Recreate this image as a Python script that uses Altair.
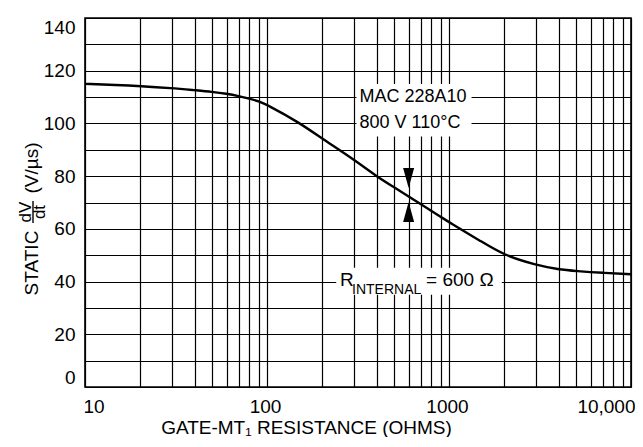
import altair as alt
import pandas as pd

# ---- data ----
resistance = [10, 15, 20, 30, 40, 50, 60, 70, 80, 90, 100, 150, 200, 300, 400, 500,
              600, 700, 800, 900, 1000, 1500, 2000, 3000, 4000, 5000, 7000, 10000]
dvdt = [115, 114.6, 114.2, 113.4, 112.6, 112.0, 111.3, 110.4, 109.4, 108.4, 107.1, 100.4,
        94.3, 86.3, 79.9, 75.8, 72.3, 69.4, 66.8, 64.6, 62.5, 55.3, 50.0, 46.3, 44.6,
        44.0, 43.3, 42.8]

x_grid = [m * d for d in (10, 100, 1000) for m in range(1, 10)] + [10000]
y_grid = list(range(0, 150, 10))

mac_text = ["MAC 228A10", "800 V 110°C"]
mac_x = [634, 610]
mac_y = [110, 100]

box_x = [310, 240]
box_x2 = [1330, 1950]
box_y = [95, 35]
box_y2 = [115, 45.2]

arrow_dir = ["down", "up"]
arrow_x = [600, 600]
arrow_y = [79.3, 66.4]

r_x = [252]
r_y = [38.3]

FONT = "Liberation Sans Narrow, Liberation Sans, Arial, sans-serif"

xs = alt.Scale(type="log", domain=[10, 10000])
ys = alt.Scale(domain=[0, 140])

x_axis = alt.Axis(
    values=x_grid,
    labelExpr="datum.value == 10000 ? '10,000' : datum.value == 1000 ? '1000' : datum.value == 100 ? '100' : datum.value == 10 ? '10' : ''",
    labelFlush=True,
    labelOffset={"condition": {"test": "datum.value == 10000", "value": 4}, "value": -2},
    labelPadding=10,
    title="GATE-MT₁ RESISTANCE (OHMS)",
    titleX=221, titleY=46, titleAlign="center", titleBaseline="alphabetic",
    titleFontSize=19, titleFont=FONT, titleFontWeight="normal",
)
y_axis = alt.Axis(
    values=y_grid,
    labelExpr="datum.value % 20 == 0 ? datum.label : ''",
    labelFlush=True,
    labelPadding=10,
    title="",
)

curve_df = pd.DataFrame({"r": resistance, "v": dvdt})
box_df = pd.DataFrame({"r": box_x, "r2": box_x2, "v": box_y, "v2": box_y2})
mac_df = pd.DataFrame({"r": mac_x, "v": mac_y, "t": mac_text})
arrow_df = pd.DataFrame({"r": arrow_x, "v": arrow_y, "d": arrow_dir})
r_df = pd.DataFrame({"r": r_x, "v": r_y})

X = alt.X("r:Q", scale=xs, axis=x_axis)
Y = alt.Y("v:Q", scale=ys, axis=y_axis)

curve = alt.Chart(curve_df).mark_line(color="black", strokeWidth=2.4, interpolate="basis").encode(x=X, y=Y)

boxes = alt.Chart(box_df).mark_rect(fill="white").encode(x=X, x2="r2:Q", y=Y, y2="v2:Q")

mac = alt.Chart(mac_df).mark_text(font=FONT, fontSize=18, align="center", baseline="middle", color="black").encode(
    x=X, y=Y, text="t:N")

down_path = "M-0.55,-1L0.55,-1L0,1Z"
up_path = "M-0.55,1L0.55,1L0,-1Z"
arrows = alt.Chart(arrow_df).mark_point(filled=True, color="black", opacity=1, size=400).encode(
    x=X, y=Y,
    shape=alt.Shape("d:N", scale=alt.Scale(domain=["down", "up"], range=[down_path, up_path]), legend=None),
)

r_main = alt.Chart(r_df).mark_text(text="R", font=FONT, fontSize=19, align="left", baseline="alphabetic", color="black").encode(x=X, y=Y)
r_sub = alt.Chart(r_df).mark_text(text="INTERNAL", font=FONT, fontSize=14, align="left", baseline="alphabetic", dx=12, dy=8, color="black").encode(x=X, y=Y)
r_rest = alt.Chart(r_df).mark_text(text="= 600 Ω", font=FONT, fontSize=19, align="left", baseline="alphabetic", dx=86, color="black").encode(x=X, y=Y)

one = pd.DataFrame({"k": [0]})
yt_static = alt.Chart(one).mark_text(text="STATIC", font=FONT, fontSize=19, angle=270, align="center", baseline="middle", color="black").encode(
    x=alt.value(-53), y=alt.value(245))
yt_dv = alt.Chart(one).mark_text(text="dV", font=FONT, fontSize=17, angle=270, align="center", baseline="middle", color="black").encode(
    x=alt.value(-59), y=alt.value(194))
yt_dt = alt.Chart(one).mark_text(text="dt", font=FONT, fontSize=17, angle=270, align="center", baseline="middle", color="black").encode(
    x=alt.value(-45), y=alt.value(194))
yt_bar = alt.Chart(one).mark_rule(color="black", strokeWidth=1.4).encode(
    x=alt.value(-52), y=alt.value(183), y2=alt.value(205))
yt_units = alt.Chart(one).mark_text(text="(V/µs)", font=FONT, fontSize=19, angle=270, align="center", baseline="middle", color="black").encode(
    x=alt.value(-53), y=alt.value(150))

chart = alt.layer(
    curve, boxes, mac, arrows, r_main, r_sub, r_rest,
    yt_static, yt_dv, yt_dt, yt_bar, yt_units,
).properties(
    width=546, height=369,
    autosize=alt.AutoSizeParams(type="none"),
    padding={"left": 77, "top": 10, "right": 4, "bottom": 50},
).configure_view(
    stroke="black", strokeWidth=1.6,
).configure_axis(
    labelFont=FONT, labelFontSize=19, labelColor="black",
    gridColor="black", gridWidth=1.2, gridOpacity=1,
    domain=False, ticks=False, tickSize=0,
    titleColor="black",
)

chart.save("out.html", embed_options={"renderer": "svg", "actions": False})
